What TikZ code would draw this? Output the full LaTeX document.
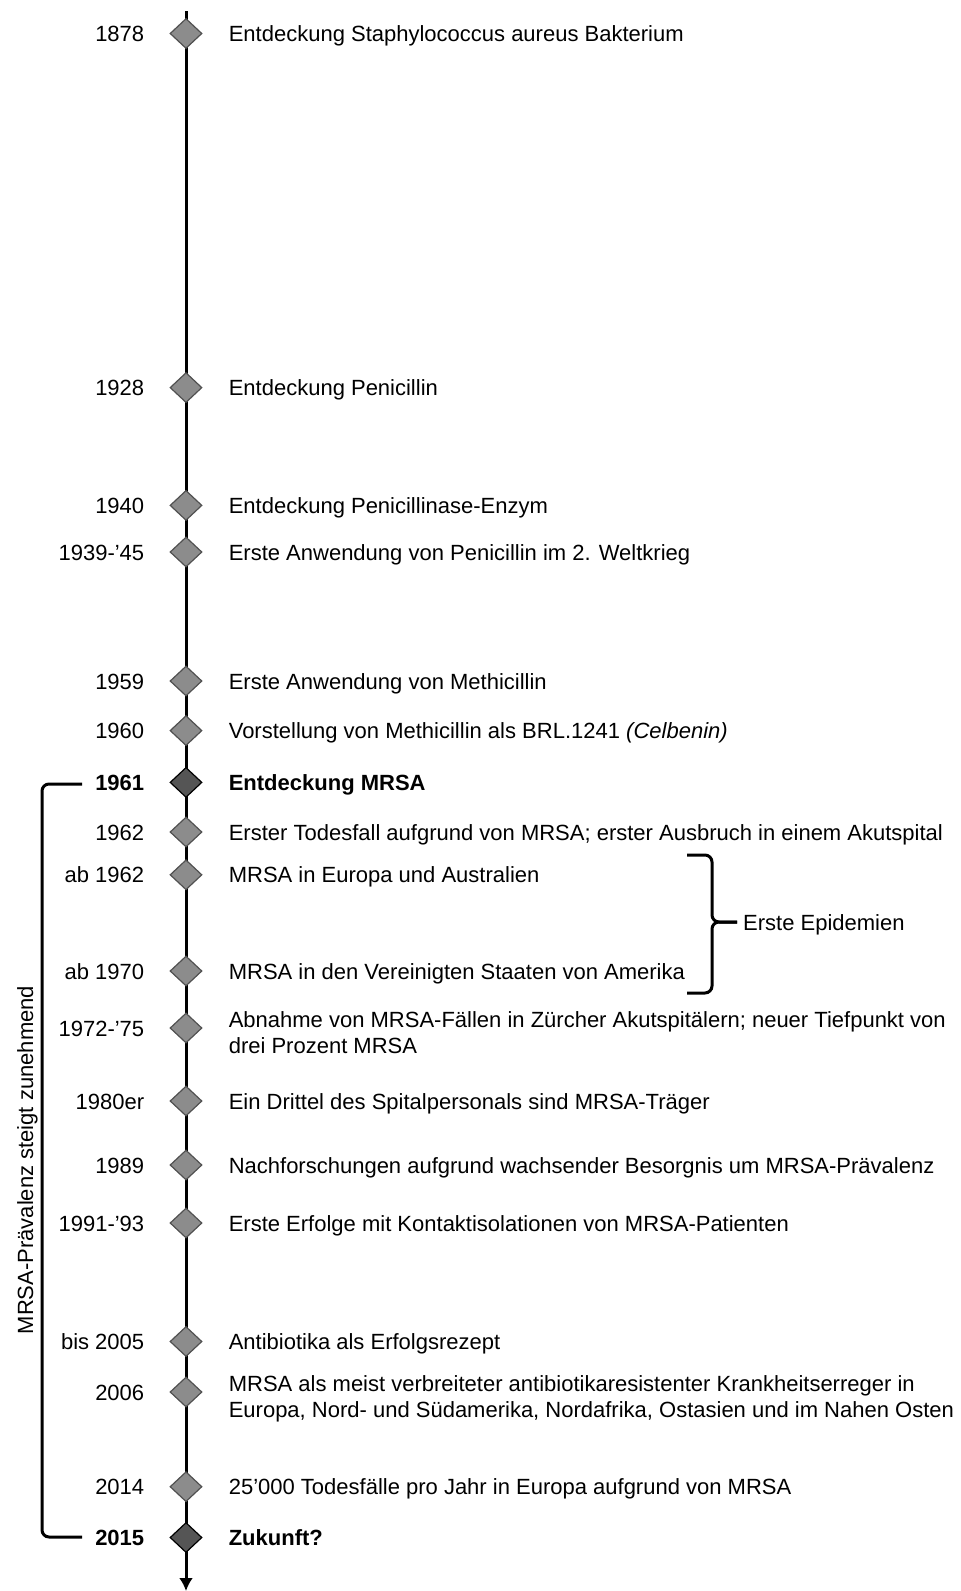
\documentclass[tikz,border=0pt]{standalone}
\usepackage{fontspec}
\setmainfont{Liberation Sans}
\usetikzlibrary{positioning,shapes.geometric,arrows.meta}

\definecolor{stonegray}{RGB}{140,140,140}
\definecolor{stoneedge}{RGB}{80,80,80}
\definecolor{keygray}{RGB}{85,85,85}

\newcommand{\tlfont}{\fontsize{22}{26}\selectfont}

\begin{document}
\begin{tikzpicture}
    [
        x = 1pt, y = -1pt,
        every node/.style = {font=\tlfont, inner sep=0pt},
        stone/.style = {
            diamond,
            draw = stoneedge,
            fill = stonegray,
            line width = 1.2pt,
            minimum width = 32pt,
            minimum height = 30pt
        },
        keystone/.style = {stone, draw=black, fill=keygray},
        year/.style = {anchor=east, text height=16pt, text depth=0pt},
        keyyear/.style = {year, font=\tlfont\bfseries},
        event/.style = {anchor=west, align=left, text height=16pt, text depth=0pt},
        keyevent/.style = {event, font=\tlfont\bfseries},
        longevent/.style = {event, yshift=-17pt},
        axis/.style = {line width=3pt, -{Latex[length=13pt,width=14pt]}},
        bracket/.style = {line width=3pt, rounded corners=7pt},
    ]

    \useasboundingbox (0,0) rectangle (961,1591);

    % time axis
    \coordinate (axtop) at (186,11);
    \coordinate (axend) at (186,1591);
    \draw[axis] (axtop) -- (axend);

    % ordinary events
    \foreach \i/\y/\yr/\txt in {
        1/33.5/1878/Entdeckung Staphylococcus aureus Bakterium,
        2/387.6/1928/Entdeckung Penicillin,
        3/505.4/1940/Entdeckung Penicillinase-Enzym,
        4/552/1939-'45/Erste Anwendung von Penicillin im 2. Weltkrieg,
        5/681/1959/Erste Anwendung von Methicillin,
        6/730.6/1960/Vorstellung von Methicillin als BRL.1241 \textit{(Celbenin)},
        8/832/1962/Erster Todesfall aufgrund von MRSA; erster Ausbruch in einem Akutspital,
        9/874.8/ab 1962/MRSA in Europa und Australien,
        10/971/ab 1970/MRSA in den Vereinigten Staaten von Amerika,
        12/1101/1980er/Ein Drittel des Spitalpersonals sind MRSA-Träger,
        13/1165/1989/Nachforschungen aufgrund wachsender Besorgnis um MRSA-Prävalenz,
        14/1223/1991-'93/Erste Erfolge mit Kontaktisolationen von MRSA-Patienten,
        15/1341.5/bis 2005/Antibiotika als Erfolgsrezept,
        17/1486.7/2014/25'000 Todesfälle pro Jahr in Europa aufgrund von MRSA
    }
    {
        \node[stone] (d\i) at (186,\y) {};
        \node[year, left=25pt of d\i] (y\i) {\yr};
        \node[event, right=26pt of d\i] (e\i) {\txt};
    }

    % two-line events
    \node[stone] (d11) at (186,1028) {};
    \node[year, left=25pt of d11] (y11) {1972-'75};
    \node[longevent, right=26pt of d11] (e11)
        {Abnahme von MRSA-Fällen in Zürcher Akutspitälern; neuer Tiefpunkt von\\drei Prozent MRSA};
    \node[stone] (d16) at (186,1392) {};
    \node[year, left=25pt of d16] (y16) {2006};
    \node[longevent, right=26pt of d16] (e16)
        {MRSA als meist verbreiteter antibiotikaresistenter Krankheitserreger in\\Europa, Nord- und Südamerika, Nordafrika, Ostasien und im Nahen Osten};

    % key events
    \node[keystone] (d7) at (186,782.4) {};
    \node[keyyear, left=25pt of d7] (y7) {1961};
    \node[keyevent, right=26pt of d7] (e7) {Entdeckung MRSA};
    \node[keystone] (d18) at (186,1537.5) {};
    \node[keyyear, left=25pt of d18] (y18) {2015};
    \node[keyevent, right=26pt of d18] (e18) {Zukunft?};

    % epidemics brace
    \node[event] (epi) at (743,922) {Erste Epidemien};
    \draw[bracket] (687,855) -| (712,922) -- ([xshift=-6pt]epi.west);
    \draw[bracket] ([xshift=-6pt]epi.west) -- (712,922) |- (687,993);

    % prevalence bracket
    \draw[bracket] (82,784) -| (42,1537) -- (82,1537);
    \node[rotate=90, anchor=base] (prev) at (33,1160) {MRSA-Prävalenz steigt zunehmend};
\end{tikzpicture}
\end{document}
